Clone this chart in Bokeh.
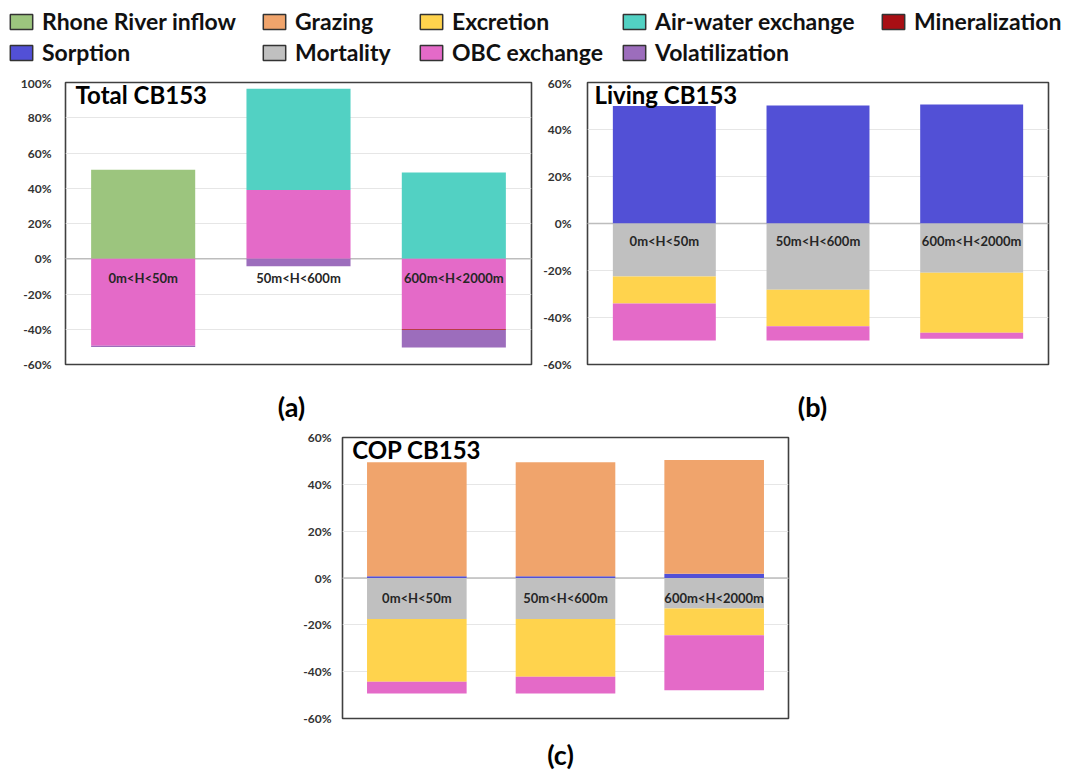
from bokeh.plotting import figure
from bokeh.models import (FactorRange, Range1d, FixedTicker, PrintfTickFormatter, Span,
                          Label, Legend, LegendItem, ColumnDataSource, Spacer)
from bokeh.layouts import column, row
from bokeh.embed import file_html
from bokeh.resources import INLINE
from bokeh.core.properties import value

# ---------------- data ----------------
categories = ["0m<H<50m", "50m<H<600m", "600m<H<2000m"]

series = ["Rhone River inflow", "Sorption", "Grazing", "Mortality", "Excretion",
          "OBC exchange", "Air-water exchange", "Volatilization", "Mineralization"]

series_colors = ["#9cc57e", "#5250d6", "#f0a46c", "#c0c0c0", "#ffd34d",
                 "#e46ac8", "#52d1c3", "#9c6dbc", "#a80f14"]

# stacking order below zero (closest to zero first)
neg_order = ["Rhone River inflow", "Sorption", "Grazing", "Mortality", "Excretion",
             "OBC exchange", "Air-water exchange", "Mineralization", "Volatilization"]

# percentages per category
total_cb153 = {
    "Rhone River inflow": [50.5, 0.0, 0.0],
    "OBC exchange": [-49.3, 39.0, -40.0],
    "Air-water exchange": [0.0, 57.5, 49.0],
    "Volatilization": [-0.7, -4.2, -10.0],
    "Mineralization": [0.0, 0.0, -0.4],
}
living_cb153 = {
    "Sorption": [50.0, 50.2, 50.6],
    "Mortality": [-22.5, -28.2, -21.0],
    "Excretion": [-11.5, -15.5, -25.5],
    "OBC exchange": [-15.8, -6.1, -2.5],
}
cop_cb153 = {
    "Sorption": [0.8, 0.8, 1.8],
    "Grazing": [48.6, 48.6, 48.6],
    "Mortality": [-17.5, -17.5, -13.0],
    "Excretion": [-26.8, -24.7, -11.4],
    "OBC exchange": [-5.0, -7.1, -23.5],
}

panel_titles = ["Total CB153", "Living CB153", "COP CB153"]
panel_letters = ["(a)", "(b)", "(c)"]
ticks_total = [-60, -40, -20, 0, 20, 40, 60, 80, 100]
ticks_small = [-60, -40, -20, 0, 20, 40, 60]

FONT = "Lato"
color_of = dict(zip(series, series_colors))


def make_panel(vals, title, ticks, width, height, borders, cat_label_y, title_x, tick_standoff):
    bl, br, bt, bb = borders
    p = figure(x_range=FactorRange(factors=categories),
               y_range=Range1d(ticks[0], ticks[-1]),
               width=width, height=height, output_backend="svg", toolbar_location=None,
               x_axis_location=None, min_border_left=bl, min_border_right=br,
               min_border_top=bt, min_border_bottom=bb)
    data = {"cat": categories}
    pos_fields, pos_cols, neg_fields, neg_cols = [], [], [], []
    for s in series:
        if s in vals and any(v > 0 for v in vals[s]):
            f = "pos_" + s
            data[f] = [max(v, 0.0) for v in vals[s]]
            pos_fields.append(f)
            pos_cols.append(color_of[s])
    for s in neg_order:
        if s in vals and any(v < 0 for v in vals[s]):
            f = "neg_" + s
            data[f] = [min(v, 0.0) for v in vals[s]]
            neg_fields.append(f)
            neg_cols.append(color_of[s])
    src = ColumnDataSource(data)
    if pos_fields:
        p.vbar_stack(pos_fields, x="cat", width=0.67, color=pos_cols, line_color=None, source=src)
    if neg_fields:
        p.vbar_stack(neg_fields, x="cat", width=0.67, color=neg_cols, line_color=None, source=src)

    p.add_layout(Span(location=0, dimension="width", line_color="#bdbdbd", line_width=1.5,
                      level="underlay"))

    p.text(x=categories, y=[cat_label_y] * len(categories), text=categories,
           text_align="center", text_baseline="middle", text_font=value(FONT),
           text_font_style="bold", text_font_size="13px", text_color="#262626")

    p.add_layout(Label(x=title_x, y=ticks[-1] + 1.2, text=title, text_baseline="top",
                       text_align="left", text_font=FONT, text_font_style="bold",
                       text_font_size="24px", text_color="#000000"))

    p.yaxis.ticker = FixedTicker(ticks=ticks)
    p.yaxis.formatter = PrintfTickFormatter(format="%d%%")
    p.yaxis.axis_line_color = None
    p.yaxis.major_tick_line_color = None
    p.yaxis.minor_tick_line_color = None
    p.yaxis.major_label_standoff = tick_standoff
    p.yaxis.major_label_text_font = FONT
    p.yaxis.major_label_text_font_style = "bold"
    p.yaxis.major_label_text_font_size = "12px"
    p.yaxis.major_label_text_color = "#333333"
    p.xgrid.grid_line_color = None
    p.ygrid.grid_line_color = "#e6e6e6"
    p.ygrid.grid_line_width = 1
    p.outline_line_color = "#404040"
    p.outline_line_width = 1.6
    p.background_fill_color = "white"
    p.border_fill_color = "white"
    return p


def letter_fig(text, width, height, y_pos):
    f = figure(width=width, height=height, x_range=Range1d(0, 1), y_range=Range1d(0, 1),
               x_axis_location=None, y_axis_location=None, toolbar_location=None,
               output_backend="svg", min_border=0)
    f.outline_line_color = None
    f.grid.visible = False
    f.add_layout(Label(x=0.5, y=y_pos, text=text, text_align="center", text_baseline="middle",
                       text_font=FONT, text_font_style="bold", text_font_size="27px",
                       text_color="#000000"))
    return f


pa = make_panel(total_cb153, panel_titles[0], ticks_total, 540, 307,
                (65, 9, 7, 18), -10.8, 0.065, 8)
pb = make_panel(living_cb153, panel_titles[1], ticks_small, 529, 307,
                (45, 21, 7, 18), -7.3, 0.045, 10)
pc = make_panel(cop_cb153, panel_titles[2], ticks_small, 510, 303,
                (52, 12, 12, 10), -8.5, 0.065, 5)

# ---------------- legend (column-major, 2 rows) ----------------
legend_widths = [253, 157, 203, 259, 190]
legend_figs = [Spacer(width=7, height=75)]
for ci, w in enumerate(legend_widths):
    names = series[2 * ci: 2 * ci + 2]
    lf = figure(width=w, height=75, output_backend="svg", toolbar_location=None,
                x_axis_location=None, y_axis_location=None, x_range=Range1d(0, 1),
                y_range=Range1d(0, 1), min_border_left=0, min_border_right=0,
                min_border_top=7, min_border_bottom=0)
    lf.outline_line_color = None
    lf.grid.visible = False
    items = []
    for n in names:
        # swatch-only renderer: no drawable point in the plot area
        r = lf.vbar(x=[float("nan")], top=[float("nan")], width=0.5, fill_color=color_of[n],
                    line_color="#333333", line_width=1.5)
        items.append(LegendItem(label=n, renderers=[r]))
    lg = Legend(items=items, location="top_left", margin=0, padding=0,
                border_line_color=None, background_fill_alpha=0,
                glyph_width=28, glyph_height=19, label_standoff=7, spacing=3,
                label_text_font=FONT, label_text_font_style="bold",
                label_text_font_size="23px", label_text_color="#111111")
    lf.add_layout(lg, "center")
    legend_figs.append(lf)

letters_ab = row(Spacer(width=261, height=43), letter_fig(panel_letters[0], 60, 43, 0.45),
                 Spacer(width=461, height=43), letter_fig(panel_letters[1], 60, 43, 0.45))
letters_c = row(Spacer(width=530, height=44), letter_fig(panel_letters[2], 60, 44, 0.42))

layout = column(row(*legend_figs),
                row(pa, pb),
                letters_ab,
                row(Spacer(width=290, height=303), pc),
                letters_c)

open("out.html", "w").write(file_html(layout, INLINE))
